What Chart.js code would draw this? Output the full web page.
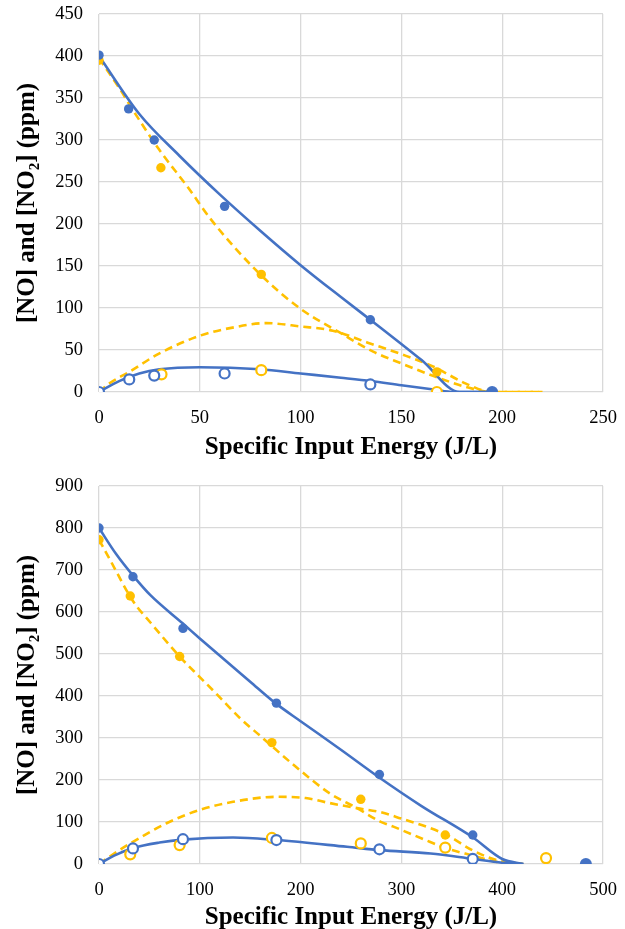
<!DOCTYPE html>
<html lang="en">
<head>
  <meta charset="UTF-8" />
  <title>[NO] and [NO2] vs Specific Input Energy</title>
  <script src="https://cdn.jsdelivr.net/npm/chart.js@4.4.0/dist/chart.umd.min.js"></script>
  <style>
    body { margin: 0; background: #fff; }
    .chart-box { position: absolute; left: 0; width: 625px; }
    #topBox { top: 0; height: 460px; }
    #bottomBox { top: 460px; height: 469px; }
  </style>
</head>
<body>
  <div class="chart-box" id="topBox"><canvas id="topChart"></canvas></div>
  <div class="chart-box" id="bottomBox"><canvas id="bottomChart"></canvas></div>

  <script>
    // ---- top panel: measured points ----
    const topBlueDotX  = [0, 14.7, 27.4, 62.3, 134.6, 195];
    const topBlueDotY  = [401, 337, 300, 221, 86, 0];
    const topBlueRingX = [0, 15, 27.4, 62.3, 134.6];
    const topBlueRingY = [0, 15, 19.5, 22, 9];
    const topGoldDotX  = [0, 30.7, 80.5, 167.6];
    const topGoldDotY  = [395, 267, 140, 24];
    const topGoldRingX = [31, 80.5, 167.6];
    const topGoldRingY = [21, 26, 0];

    // ---- top panel: fitted curves ----
    const topBlueFallX = [0, 20, 40, 60, 80, 100, 120, 140, 160, 179, 195];
    const topBlueFallY = [400, 331, 281, 235, 192, 151, 113, 76, 38, 0, 0];
    const topBlueHumpX = [0, 10, 20, 30, 50, 80, 100, 120, 135, 150, 166, 176, 195];
    const topBlueHumpY = [0, 13, 22, 27, 29.5, 27, 22, 17, 13, 8, 3, 0, 0];
    const topGoldFallX = [0, 10, 17, 30, 44, 56, 80, 100, 120, 136, 150, 166, 182, 195, 220];
    const topGoldFallY = [397, 362, 335, 288, 244, 204, 140, 99, 70, 48, 34, 19, 6, 0, 0];
    const topGoldHumpX = [0, 5, 15, 30, 50, 67, 83, 100, 116, 133, 150, 166, 182, 195, 220];
    const topGoldHumpY = [0, 10, 24, 46, 67, 77, 82, 78, 73, 59, 45, 30, 10, 0, 0];

    // ---- bottom panel: measured points ----
    const botBlueDotX  = [0, 33.7, 83.3, 176, 278.2, 370.8, 483];
    const botBlueDotY  = [800, 684, 561, 383, 213, 69, 0];
    const botBlueRingX = [0, 33.7, 83.3, 176, 278.2, 370.8];
    const botBlueRingY = [0, 37, 59, 57, 35, 12];
    const botGoldDotX  = [0, 31, 80, 171.5, 259.7, 343.5];
    const botGoldDotY  = [772, 638, 494, 289, 154, 69];
    const botGoldRingX = [31, 80, 171.5, 259.7, 343.5, 443.5];
    const botGoldRingY = [23, 45, 62, 49, 39, 14];

    // ---- bottom panel: fitted curves ----
    const botBlueFallX = [0, 17, 34, 51, 83, 100, 150, 175, 200, 240, 278, 320, 371, 400, 421];
    const botBlueFallY = [800, 738, 686, 640, 573, 537, 434, 383, 340, 272, 206, 138, 63, 12, 0];
    const botBlueHumpX = [0, 15, 34, 60, 83, 133, 176, 246, 279, 329, 371, 400, 421];
    const botBlueHumpY = [0, 20, 38, 51, 58, 63, 57, 41, 33, 25, 12, 3, 0];
    const botGoldFallX = [0, 11, 34, 51, 80, 100, 117, 140, 160, 195, 229, 256, 279, 292, 328, 345, 371, 395, 421];
    const botGoldFallY = [772, 724, 625, 575, 494, 445, 404, 347, 305, 232, 168, 133, 101, 89, 53, 37, 20, 5, 0];
    const botGoldHumpX = [0, 15, 31, 67, 100, 133, 176, 205, 229, 256, 280, 300, 328, 345, 371, 395, 421];
    const botGoldHumpY = [0, 25, 49, 97, 129, 148, 160, 157, 145, 133, 123, 108, 86, 69, 32, 9, 0];

    const BLUE = '#4472C4';
    const GOLD = '#FFC000';
    const SERIF = "'Liberation Serif', 'Times New Roman', serif";

    function pts(xs, ys) {
      return xs.map((x, i) => ({ x: x, y: ys[i] }));
    }

    function dots(xs, ys, color, open, bigLast) {
      return {
        data: pts(xs, ys),
        showLine: false,
        pointRadius: c => (bigLast && c.dataIndex === xs.length - 1) ? 6 : (open ? 5 : 4.7),
        pointBackgroundColor: open ? '#fff' : color,
        pointBorderColor: color,
        pointBorderWidth: open ? 2.2 : 0
      };
    }

    function curve(xs, ys, color, dashed) {
      return {
        data: pts(xs, ys),
        showLine: true,
        pointRadius: 0,
        borderColor: color,
        borderWidth: 2.6,
        borderDash: dashed ? [8, 5] : [],
        cubicInterpolationMode: 'monotone'
      };
    }

    function makeOptions(xMax, xStep, yMax, yStep, topPad, xAxisHeight, titleShift) {
      return {
        responsive: true,
        maintainAspectRatio: false,
        animation: false,
        layout: { padding: { top: topPad, right: 22, left: 0, bottom: 0 } },
        plugins: { legend: { display: false }, tooltip: { enabled: false } },
        scales: {
          x: {
            type: 'linear',
            min: 0,
            max: xMax,
            ticks: { stepSize: xStep, color: '#000', padding: 15, font: { family: SERIF, size: 18.5 } },
            grid: { color: '#d9d9d9', lineWidth: 1.3, drawTicks: false },
            border: { display: false },
            title: {
              display: true,
              text: 'Specific Input Energy (J/L)',
              color: '#000',
              font: { family: SERIF, size: 25, weight: 'bold' },
              padding: { top: 0, bottom: titleShift }
            },
            afterFit: s => {
              s.height = xAxisHeight;
              s.paddingLeft = 0;
              s.paddingRight = 0;
            }
          },
          y: {
            type: 'linear',
            min: 0,
            max: yMax,
            ticks: { stepSize: yStep, color: '#000', padding: 16, font: { family: SERIF, size: 18.5 } },
            grid: { color: '#d9d9d9', lineWidth: 1.3, drawTicks: false },
            border: { display: false },
            title: {
              display: true,
              text: '[NO] and [NO\u2082] (ppm)',
              color: '#000',
              font: { family: SERIF, size: 25, weight: 'bold' },
              padding: { top: 13, bottom: 0 }
            },
            afterFit: s => {
              s.width = 99;
              s.paddingTop = 0;
              s.paddingBottom = 0;
            }
          }
        }
      };
    }

    new Chart(document.getElementById('topChart'), {
      type: 'scatter',
      data: {
        datasets: [
          dots(topBlueDotX, topBlueDotY, BLUE, false, true),
          dots(topBlueRingX, topBlueRingY, BLUE, true, false),
          dots(topGoldDotX, topGoldDotY, GOLD, false, false),
          dots(topGoldRingX, topGoldRingY, GOLD, true, false),
          curve(topBlueFallX, topBlueFallY, BLUE, false),
          curve(topBlueHumpX, topBlueHumpY, BLUE, false),
          curve(topGoldFallX, topGoldFallY, GOLD, true),
          curve(topGoldHumpX, topGoldHumpY, GOLD, true)
        ]
      },
      options: makeOptions(250, 50, 450, 50, 14, 68, -3)
    });

    new Chart(document.getElementById('bottomChart'), {
      type: 'scatter',
      data: {
        datasets: [
          dots(botBlueDotX, botBlueDotY, BLUE, false, true),
          dots(botBlueRingX, botBlueRingY, BLUE, true, false),
          dots(botGoldDotX, botGoldDotY, GOLD, false, false),
          dots(botGoldRingX, botGoldRingY, GOLD, true, false),
          curve(botBlueFallX, botBlueFallY, BLUE, false),
          curve(botBlueHumpX, botBlueHumpY, BLUE, false),
          curve(botGoldFallX, botGoldFallY, GOLD, true),
          curve(botGoldHumpX, botGoldHumpY, GOLD, true)
        ]
      },
      options: makeOptions(500, 100, 900, 100, 26, 65, -4)
    });
  </script>
</body>
</html>
